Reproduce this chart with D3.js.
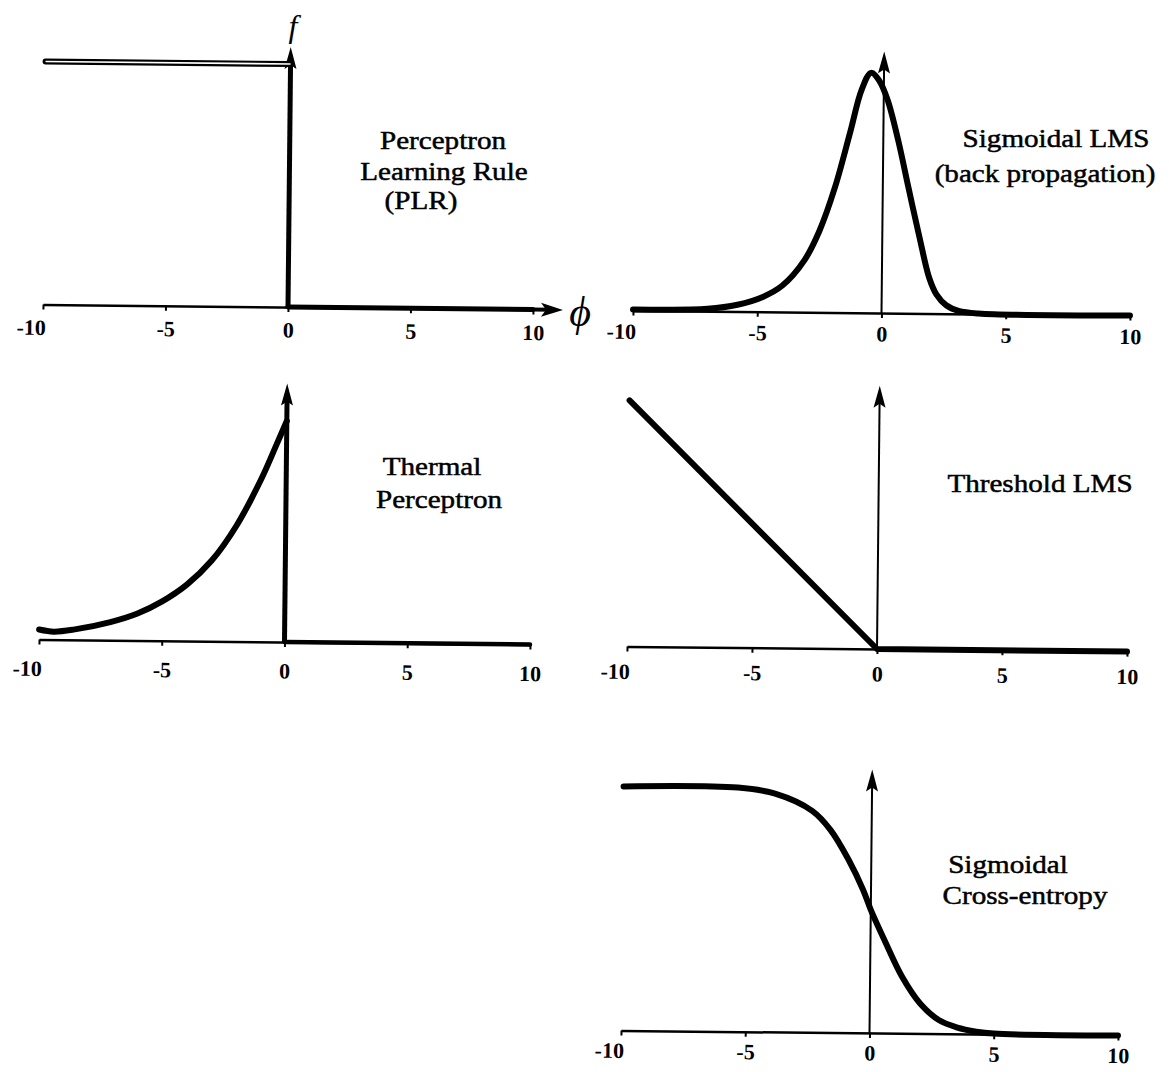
<!DOCTYPE html>
<html>
<head>
<meta charset="utf-8">
<script src="https://cdn.jsdelivr.net/npm/d3@7"></script>
<style>
body { margin: 0; background: #fff; }
</style>
</head>
<body>
<svg width="1169" height="1072"></svg>
<script>
var xTicks = [-10, -5, 0, 5, 10]
var tickLabels = ['-10', '-5', '0', '5', '10']

// perceptron learning rule: a step
var plrX = [-10, 0]
var plrY = [1, 1]
var plrTailX = [0, 10]
var plrTailY = [0, 0]

// sigmoidal LMS (back propagation)
var lmsX = [-10, -7, -5.8, -4.76, -4, -3.12, -2.53, -1.93, -1.34, -0.89, -0.52, -0.2, 0.15, 0.6, 1.04, 1.49, 1.9, 2.2, 2.6, 3.1, 3.9, 10]
var lmsY = [0.004, 0.01, 0.028, 0.063, 0.11, 0.217, 0.34, 0.52, 0.75, 0.93, 1.0, 0.97, 0.89, 0.72, 0.52, 0.32, 0.15, 0.08, 0.035, 0.012, 0.002, 0]

// thermal perceptron
var thermalX = [-10, -9.4, -8.6, -7.1, -6, -5, -4, -3, -2, -1, -0.4, 0]
var thermalY = [0.045, 0.036, 0.046, 0.082, 0.122, 0.178, 0.255, 0.365, 0.525, 0.74, 0.895, 1.0]
var thermalTailX = [0, 10]
var thermalTailY = [0, 0]

// threshold LMS
var threshX = [-10, 0, 10]
var threshY = [1, 0, 0]

// sigmoidal cross-entropy
var crossX = [-10, -5.4, -3.9, -2.4, -1.65, -0.92, -0.32, 0, 0.57, 1.3, 2.05, 2.8, 3.5, 4.3, 5, 10]
var crossY = [1, 1, 0.977, 0.908, 0.83, 0.71, 0.587, 0.505, 0.38, 0.23, 0.12, 0.055, 0.027, 0.01, 0.003, 0]

var plrLabel = ['Perceptron', 'Learning Rule', '(PLR)']
var lmsLabel = ['Sigmoidal LMS', '(back propagation)']
var thermalLabel = ['Thermal', 'Perceptron']
var threshLabel = ['Threshold LMS']
var crossLabel = ['Sigmoidal', 'Cross-entropy']

var serif = '"Liberation Serif", "Times New Roman", serif'
var tilt = 0.6   // the scan is turned a little clockwise
var svg = d3.select('svg')

function zip(xs, ys) {
    return xs.map(function(d, i) { return [d, ys[i]] })
}

function drawPanel(p) {
    var x = d3.scaleLinear().domain([-10, 10]).range([p.x0, p.x1])
    var y = d3.scaleLinear().domain([0, 1]).range([p.axisY, p.topY])
    var g = svg.append('g')
        .attr('transform', 'rotate(' + tilt + ',' + x(0) + ',' + p.axisY + ')')

    var axis = d3.axisBottom(x)
        .tickValues(xTicks)
        .tickFormat(function(d, i) { return tickLabels[i] })
        .tickSize(5)
        .tickSizeOuter(0)
        .tickPadding(p.pad)

    var ga = g.append('g')
        .attr('transform', 'translate(0,' + p.axisY + ')')
        .call(axis)
        .attr('font-family', serif)
        .attr('font-size', 22)
        .attr('font-weight', 'bold')
    ga.select('.domain').attr('stroke-width', 2.5)
    ga.selectAll('.tick line').attr('stroke-width', 2)
    ga.selectAll('.tick text')
        .attr('fill', '#000')
        .attr('dx', function(d) { return d === -10 ? -12 : 0 })

    // f axis arrow at zero
    var ax = x(0), tip = y(p.tip)
    g.append('line')
        .attr('x1', ax).attr('x2', ax)
        .attr('y1', p.axisY).attr('y2', tip + 12)
        .attr('stroke', '#000')
        .attr('stroke-width', p.heavy ? 5 : 2)
    g.append('path')
        .attr('d', 'M' + ax + ',' + tip + 'L' + (ax - 6) + ',' + (tip + 22) + 'L' + ax + ',' + (tip + 18) + 'L' + (ax + 6) + ',' + (tip + 22) + 'Z')
        .attr('fill', '#000')

    var line = d3.line()
        .x(function(d) { return x(d[0]) })
        .y(function(d) { return y(d[1]) })

    p.series.forEach(function(s) {
        g.append('path')
            .datum(zip(s.xs, s.ys))
            .attr('d', line.curve(s.smooth ? d3.curveCatmullRom.alpha(0.5) : d3.curveLinear))
            .attr('fill', 'none')
            .attr('stroke', '#000')
            .attr('stroke-width', s.width)
            .attr('stroke-linecap', 'round')
            .attr('stroke-linejoin', 'round')
        if (s.hollow) {
            g.append('path')
                .datum(zip(s.xs, s.ys))
                .attr('d', line.curve(d3.curveLinear))
                .attr('fill', 'none')
                .attr('stroke', '#fff')
                .attr('stroke-width', 1.6)
        }
    })

    // panel name, set a bit wide like the scanned Times
    svg.selectAll(null)
        .data(p.label)
        .enter()
        .append('text')
        .attr('transform', function(d, i) { return 'translate(' + p.lx[i] + ',' + p.ly[i] + ') scale(1.12,1)' })
        .attr('text-anchor', 'middle')
        .attr('font-family', serif)
        .attr('font-size', 26)
        .attr('stroke', '#000')
        .attr('stroke-width', 0.5)
        .text(function(d) { return d })

    return {x: x, y: y, g: g}
}

var tl = drawPanel({
    x0: 43, x1: 533, axisY: 307, topY: 64, tip: 1.07, heavy: true, pad: 10,
    series: [
        {xs: plrX, ys: plrY, width: 6, hollow: true},
        {xs: plrTailX, ys: plrTailY, width: 5}
    ],
    label: plrLabel, lx: [443, 444, 421], ly: [149, 180, 209]
})
// phi axis arrow on the first panel
tl.g.append('line')
    .attr('x1', tl.x(10)).attr('x2', 550)
    .attr('y1', 307).attr('y2', 307)
    .attr('stroke', '#000').attr('stroke-width', 4)
tl.g.append('path')
    .attr('d', 'M563,307L541,300L546,307L541,314Z')
    .attr('fill', '#000')
svg.append('text')
    .attr('x', 293).attr('y', 37)
    .attr('text-anchor', 'middle')
    .attr('font-family', serif).attr('font-style', 'italic')
    .attr('font-size', 32)
    .text('f')
svg.append('text')
    .attr('x', 580).attr('y', 326)
    .attr('text-anchor', 'middle')
    .attr('font-family', serif).attr('font-style', 'italic')
    .attr('font-size', 42)
    .text('ϕ')

drawPanel({
    x0: 633, x1: 1130, axisY: 313, topY: 73, tip: 1.09, pad: 8,
    series: [{xs: lmsX, ys: lmsY, width: 6, smooth: true}],
    label: lmsLabel, lx: [1056, 1045], ly: [147, 182]
})

drawPanel({
    x0: 39, x1: 530, axisY: 642, topY: 421, tip: 1.17, heavy: true, pad: 16,
    series: [
        {xs: thermalX, ys: thermalY, width: 6, smooth: true},
        {xs: thermalTailX, ys: thermalTailY, width: 4.5}
    ],
    label: thermalLabel, lx: [432, 439], ly: [475, 508]
})

drawPanel({
    x0: 627, x1: 1127, axisY: 649, topY: 403, tip: 1.07, pad: 12,
    series: [{xs: threshX, ys: threshY, width: 6}],
    label: threshLabel, lx: [1040], ly: [492]
})

drawPanel({
    x0: 621, x1: 1118, axisY: 1033, topY: 789, tip: 1.08, pad: 7,
    series: [{xs: crossX, ys: crossY, width: 6, smooth: true}],
    label: crossLabel, lx: [1008, 1025], ly: [873, 904]
})
</script>
</body>
</html>
